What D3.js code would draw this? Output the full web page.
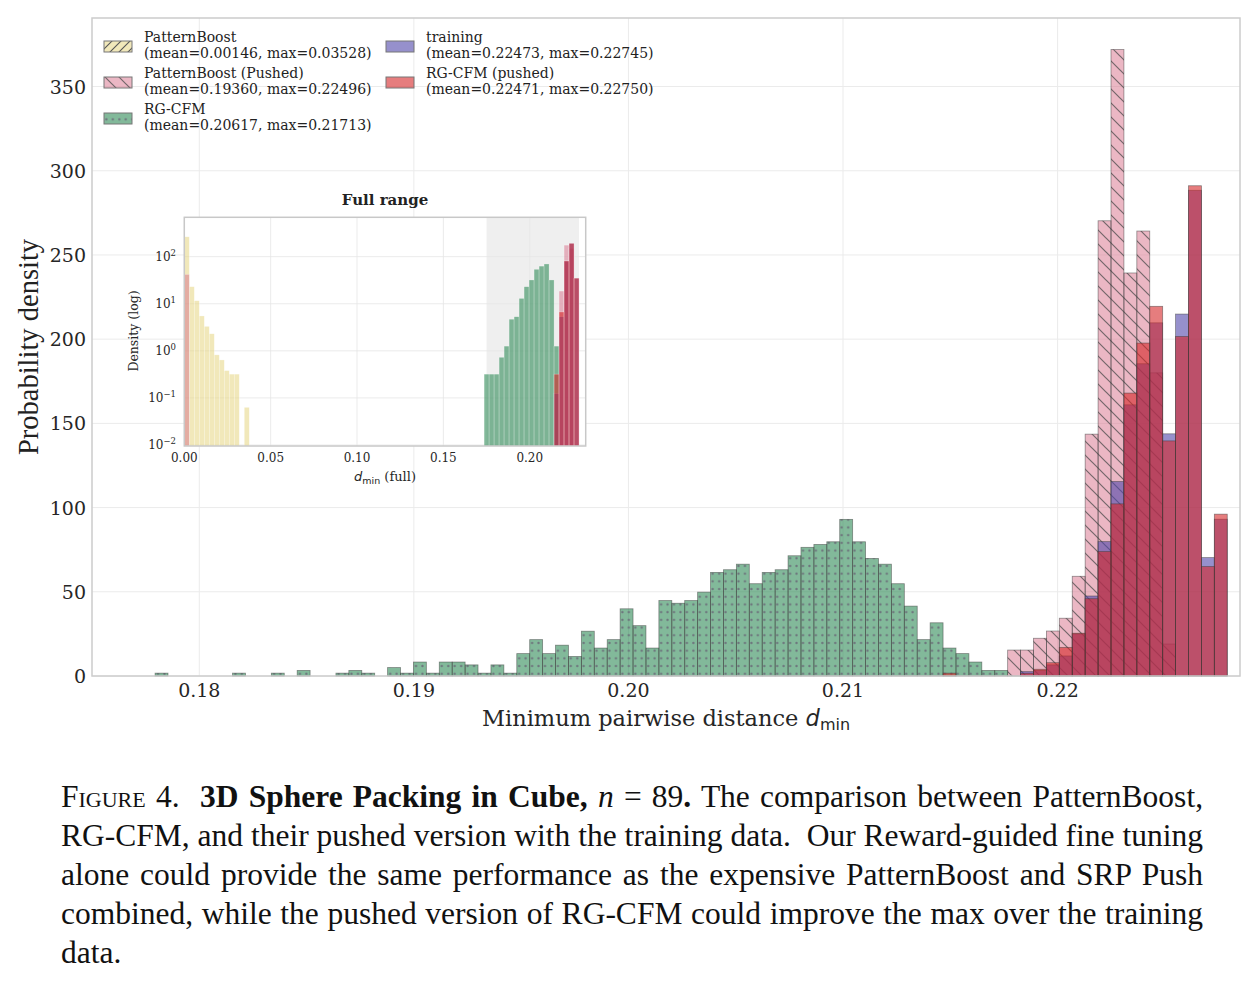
<!DOCTYPE html>
<html>
<head>
<meta charset="utf-8">
<script src="https://cdn.jsdelivr.net/npm/d3@7"></script>
<style>
  body { margin: 0; background: #fff; }
  #wrap { position: relative; width: 1259px; height: 986px; }
  .cap { position: absolute; left: 61px; width: 1142px; font-family: "Liberation Serif", serif;
         font-size: 31.5px; color: #111; line-height: 39px; text-align: justify; text-align-last: justify; }
  .cap.last { text-align-last: left; }
  .sc { font-variant: small-caps; }
</style>
</head>
<body>
<div id="wrap"></div>
<script>
// ---- main histogram (zoomed window) ----
const binStart = 0.17794;
const binWidth = 0.000602;

// RG-CFM, bins 0..65
const rgcfmStart = 0;
const rgcfm = [1.7, 0, 0, 0, 0, 0, 1.7, 0, 0, 1.7, 0, 3.3, 0, 0, 1.7, 3.3, 1.7, 0,
  5.0, 1.7, 8.3, 1.7, 8.3, 8.3, 6.6, 1.7, 6.6, 1.7, 13.3, 21.6, 13.3, 18.3, 11.6, 26.6,
  16.6, 21.6, 39.9, 29.9, 16.6, 44.8, 43.2, 44.8, 49.8, 61.5, 63.1, 66.4, 54.8, 61.5,
  63.1, 71.4, 76.4, 78.1, 79.7, 93.0, 79.7, 69.8, 66.4, 54.8, 41.5, 21.6, 31.6, 16.6,
  13.3, 8.3, 3.3, 3.3];

// PatternBoost (Pushed), bins 66..78
const pbPushedStart = 66;
const pbPushed = [15.4, 15.4, 22.4, 26.7, 34.3, 59.2, 143.6, 270.3, 372, 239.3, 264.2, 180, 19];

// training, bins 66..82
const trainingStart = 66;
const training = [0, 2.6, 3.3, 6.6, 11.9, 25.0, 47.5, 79.8, 115.5, 161.0, 185.4, 209.7,
  143.8, 214.9, 288.4, 70.3, 93.1];

// RG-CFM (pushed), bins 61..82
const rgPushedStart = 61;
const rgPushed = [1.7, 0, 0, 0, 0, 0, 1.6, 4.0, 7.9, 17.0, 25.4, 45.9, 73.9, 102.2, 168.0,
  197.7, 219.5, 139.6, 201.6, 291.1, 65.0, 96.1];

const xTicks = [0.18, 0.19, 0.20, 0.21, 0.22];
const yTicks = [0, 50, 100, 150, 200, 250, 300, 350];

// ---- inset (full range, log) ----
const insetBinWidth = 0.002893;
const pbFullStart = 0;
const pbFull = [264, 23, 11.6, 5.5, 3.3, 2.3, 0.82, 0.64, 0.38, 0.32, 0.32, 0, 0.063];
const pbPushedFull = [[0, 42], [75, 18.6], [76, 176], [77, 150]];
const rgcfmFullStart = 60;
const rgcfmFull = [0.32, 0.32, 0.32, 0.73, 1.26, 4.7, 5.3, 13.0, 23, 32, 54, 63, 70, 32, 1.26];
const trainingFullStart = 74;
const trainingFull = [0.125, 5.3, 81, 192, 35];
const rgPushedFullStart = 74;
const rgPushedFull = [0.32, 6.7, 81, 192, 35];
const insetXTicks = [0.00, 0.05, 0.10, 0.15, 0.20];
const insetYExp = [-2, -1, 0, 1, 2];
const zoomWindow = [0.175, 0.2285];

const legendItems = [
  { name: "PatternBoost", stats: "(mean=0.00146, max=0.03528)", key: "pb" },
  { name: "PatternBoost (Pushed)", stats: "(mean=0.19360, max=0.22496)", key: "pbp" },
  { name: "RG-CFM", stats: "(mean=0.20617, max=0.21713)", key: "rg" },
  { name: "training", stats: "(mean=0.22473, max=0.22745)", key: "tr" },
  { name: "RG-CFM (pushed)", stats: "(mean=0.22471, max=0.22750)", key: "rgp" }
];

const styles = {
  pb:  { color: "#e8d98c", op: 0.6, hatch: "url(#hatchFwd)" },
  pbp: { color: "#d8708a", op: 0.5, hatch: "url(#hatchBack)" },
  rg:  { color: "#2e8b57", op: 0.6, hatch: "url(#hatchDots)" },
  tr:  { color: "#5046aa", op: 0.6, hatch: null },
  rgp: { color: "#d62728", op: 0.6, hatch: null }
};

const serif = "DejaVu Serif, serif";

const svg = d3.select("#wrap").append("svg")
  .attr("width", 1259).attr("height", 986)
  .style("position", "absolute").style("left", 0).style("top", 0);

const defs = svg.append("defs");
defs.append("pattern").attr("id", "hatchBack").attr("patternUnits", "userSpaceOnUse")
  .attr("width", 14).attr("height", 14)
  .append("path").attr("d", "M0,0 L14,14 M-2,12 L2,16 M12,-2 L16,2")
  .attr("stroke", "#4a4a4a").attr("stroke-width", 1.2).attr("stroke-opacity", 0.75);
defs.append("pattern").attr("id", "hatchFwd").attr("patternUnits", "userSpaceOnUse")
  .attr("width", 9).attr("height", 9)
  .append("path").attr("d", "M0,9 L9,0 M-2,2 L2,-2 M7,11 L11,7")
  .attr("stroke", "#555").attr("stroke-width", 1.1);
const dots = defs.append("pattern").attr("id", "hatchDots").attr("patternUnits", "userSpaceOnUse")
  .attr("width", 6.45).attr("height", 7.7);
dots.append("circle").attr("cx", 3.2).attr("cy", 3.85).attr("r", 1.2)
  .attr("fill", "#6a6a78").attr("fill-opacity", 0.85);

// ---- main axes ----
const x = d3.scaleLinear().domain(zoomWindow).range([92, 1240]);
const y = d3.scaleLinear().domain([0, 390.7]).range([676, 18]);

const main = svg.append("g");
main.append("rect").attr("x", 92).attr("y", 18).attr("width", 1148).attr("height", 658).attr("fill", "#fff");

// grid
main.append("g").selectAll("line").data(xTicks).join("line")
  .attr("x1", d => x(d)).attr("x2", d => x(d)).attr("y1", 18).attr("y2", 676)
  .attr("stroke", "#ebebeb").attr("stroke-width", 1);
main.append("g").selectAll("line").data(yTicks).join("line")
  .attr("x1", 92).attr("x2", 1240).attr("y1", d => y(d)).attr("y2", d => y(d))
  .attr("stroke", "#ebebeb").attr("stroke-width", 1);

function drawBars(g, start, values, st) {
  const data = values.map((v, i) => ({ i: start + i, v })).filter(d => d.v > 0);
  const sel = g.append("g");
  const rx = d => x(binStart + d.i * binWidth);
  const rw = d => x(binStart + (d.i + 1) * binWidth) - rx(d);
  sel.selectAll("rect.f").data(data).join("rect").attr("class", "f")
    .attr("x", rx).attr("width", rw)
    .attr("y", d => y(d.v)).attr("height", d => y(0) - y(d.v))
    .attr("fill", st.color).attr("fill-opacity", st.op);
  if (st.hatch) {
    sel.selectAll("rect.h").data(data).join("rect").attr("class", "h")
      .attr("x", rx).attr("width", rw)
      .attr("y", d => y(d.v)).attr("height", d => y(0) - y(d.v))
      .attr("fill", st.hatch);
  }
  sel.selectAll("rect.e").data(data).join("rect").attr("class", "e")
    .attr("x", rx).attr("width", rw)
    .attr("y", d => y(d.v)).attr("height", d => y(0) - y(d.v))
    .attr("fill", "none").attr("stroke", "#3a3a3a").attr("stroke-opacity", 0.55).attr("stroke-width", 0.8);
}

drawBars(main, pbPushedStart, pbPushed, styles.pbp);
drawBars(main, rgcfmStart, rgcfm, styles.rg);
drawBars(main, trainingStart, training, styles.tr);
drawBars(main, rgPushedStart, rgPushed, styles.rgp);

// frame
main.append("rect").attr("x", 92).attr("y", 18).attr("width", 1148).attr("height", 658)
  .attr("fill", "none").attr("stroke", "#cccccc").attr("stroke-width", 1.5);

// tick labels
main.append("g").selectAll("text").data(xTicks).join("text")
  .attr("x", d => x(d)).attr("y", 697).attr("text-anchor", "middle")
  .attr("font-family", serif).attr("font-size", 19).attr("fill", "#262626")
  .text(d => d.toFixed(2));
main.append("g").selectAll("text").data(yTicks).join("text")
  .attr("x", 86).attr("y", d => y(d) + 7).attr("text-anchor", "end")
  .attr("font-family", serif).attr("font-size", 19).attr("fill", "#262626")
  .text(d => d);

// axis labels
const xl = main.append("text").attr("x", 666).attr("y", 726).attr("text-anchor", "middle")
  .attr("font-family", serif).attr("font-size", 22.5).attr("fill", "#262626");
xl.append("tspan").text("Minimum pairwise distance ");
xl.append("tspan").attr("font-family", "DejaVu Sans").attr("font-style", "italic").text("d");
xl.append("tspan").attr("font-family", "DejaVu Sans").attr("font-size", 16).attr("dy", 4).text("min");

main.append("text").attr("transform", "translate(38,347) rotate(-90)")
  .attr("text-anchor", "middle").attr("font-family", "Liberation Serif, serif")
  .attr("font-size", 28.5).attr("fill", "#222").text("Probability density");

// ---- legend ----
const legend = svg.append("g");
legendItems.forEach((d, k) => {
  const col = k < 3 ? 0 : 1;
  const row = k < 3 ? k : k - 3;
  const px = col === 0 ? 104 : 386;
  const py = 41 + row * 36;
  const st = styles[d.key];
  legend.append("rect").attr("x", px).attr("y", py).attr("width", 28).attr("height", 11)
    .attr("fill", st.color).attr("fill-opacity", st.op);
  if (st.hatch) legend.append("rect").attr("x", px).attr("y", py).attr("width", 28).attr("height", 11)
    .attr("fill", st.hatch);
  legend.append("rect").attr("x", px).attr("y", py).attr("width", 28).attr("height", 11)
    .attr("fill", "none").attr("stroke", "#777").attr("stroke-width", 1);
  const t = legend.append("text").attr("font-family", serif).attr("font-size", 14).attr("fill", "#222");
  t.append("tspan").attr("x", px + 40).attr("y", py + 1).text(d.name);
  t.append("tspan").attr("x", px + 40).attr("y", py + 17).text(d.stats);
});

// ---- inset ----
const ix = d3.scaleLinear().domain([0, 0.2324]).range([184.3, 585.7]);
const iy = d3.scaleLog().domain([0.00952, 686]).range([446, 217.3]);
const inset = svg.append("g");
inset.append("rect").attr("x", 184.3).attr("y", 217.3).attr("width", 401.4).attr("height", 228.7).attr("fill", "#fff");
inset.append("rect").attr("x", ix(zoomWindow[0])).attr("y", 217.3)
  .attr("width", ix(zoomWindow[1]) - ix(zoomWindow[0])).attr("height", 228.7).attr("fill", "#efefef");
inset.append("g").selectAll("line").data(insetXTicks).join("line")
  .attr("x1", d => ix(d)).attr("x2", d => ix(d)).attr("y1", 217.3).attr("y2", 446)
  .attr("stroke", "#e6e6e6").attr("stroke-width", 0.8);
inset.append("g").selectAll("line").data(insetYExp).join("line")
  .attr("x1", 184.3).attr("x2", 585.7).attr("y1", d => iy(Math.pow(10, d))).attr("y2", d => iy(Math.pow(10, d)))
  .attr("stroke", "#e6e6e6").attr("stroke-width", 0.8);

function drawInset(pairs, st) {
  const data = pairs.filter(d => d[1] > 0);
  inset.append("g").selectAll("rect").data(data).join("rect")
    .attr("x", d => ix(d[0] * insetBinWidth))
    .attr("width", d => ix((d[0] + 1) * insetBinWidth) - ix(d[0] * insetBinWidth))
    .attr("y", d => iy(d[1])).attr("height", d => 446 - iy(d[1]))
    .attr("fill", st.color).attr("fill-opacity", st.op)
    .attr("stroke", "#fff").attr("stroke-opacity", 0.5).attr("stroke-width", 0.5);
}
const withIdx = (start, vals) => vals.map((v, i) => [start + i, v]);
drawInset(withIdx(pbFullStart, pbFull), styles.pb);
drawInset(pbPushedFull, styles.pbp);
drawInset(withIdx(rgcfmFullStart, rgcfmFull), styles.rg);
drawInset(withIdx(trainingFullStart, trainingFull), styles.tr);
drawInset(withIdx(rgPushedFullStart, rgPushedFull), styles.rgp);

inset.append("rect").attr("x", 184.3).attr("y", 217.3).attr("width", 401.4).attr("height", 228.7)
  .attr("fill", "none").attr("stroke", "#c8c8c8").attr("stroke-width", 1.5);

inset.append("g").selectAll("text").data(insetXTicks).join("text")
  .attr("x", d => ix(d)).attr("y", 462).attr("text-anchor", "middle")
  .attr("font-family", serif).attr("font-size", 12).attr("fill", "#262626")
  .text(d => d.toFixed(2));
inset.append("g").selectAll("text").data(insetYExp).join("text")
  .attr("x", 176).attr("y", d => iy(Math.pow(10, d)) + 4).attr("text-anchor", "end")
  .attr("font-family", serif).attr("font-size", 12).attr("fill", "#262626")
  .each(function (d) {
    const t = d3.select(this);
    t.append("tspan").text("10");
    t.append("tspan").attr("font-size", 8.5).attr("dy", -5).text(d < 0 ? "\u2212" + (-d) : d);
  });

inset.append("text").attr("x", 385).attr("y", 205).attr("text-anchor", "middle")
  .attr("font-family", serif).attr("font-weight", "bold").attr("font-size", 15).attr("fill", "#222")
  .text("Full range");
inset.append("text").attr("transform", "translate(138,331) rotate(-90)").attr("text-anchor", "middle")
  .attr("font-family", serif).attr("font-size", 12.5).attr("fill", "#262626").text("Density (log)");
const ixl = inset.append("text").attr("x", 385).attr("y", 481).attr("text-anchor", "middle")
  .attr("font-family", serif).attr("font-size", 13).attr("fill", "#262626");
ixl.append("tspan").attr("font-family", "DejaVu Sans").attr("font-style", "italic").text("d");
ixl.append("tspan").attr("font-family", "DejaVu Sans").attr("font-size", 9.5).attr("dy", 3).text("min");
ixl.append("tspan").attr("dy", -3).text(" (full)");

// ---- caption ----
const capLines = [
  '<span class="sc">Figure</span> 4.&nbsp;&nbsp;<b>3D Sphere Packing in Cube,</b> <i>n</i> = 89<b>.</b> The comparison between PatternBoost,',
  'RG-CFM, and their pushed version with the training data.&nbsp; Our Reward-guided fine tuning',
  'alone could provide the same performance as the expensive PatternBoost and SRP Push',
  'combined, while the pushed version of RG-CFM could improve the max over the training',
  'data.'
];
d3.select("#wrap").selectAll("div.cap").data(capLines).join("div")
  .attr("class", (d, i) => i === capLines.length - 1 ? "cap last" : "cap")
  .style("top", (d, i) => (777 + i * 39) + "px")
  .html(d => d);
</script>
</body>
</html>
